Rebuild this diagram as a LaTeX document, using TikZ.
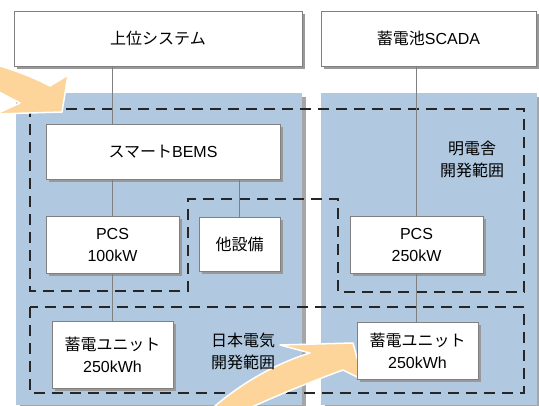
\documentclass[tikz,border=0pt]{standalone}
\usepackage{fontspec}
\setmainfont{Liberation Sans}
\newfontfamily\jp{Noto Sans CJK JP}
\usetikzlibrary{shadows}
\definecolor{panelblue}{RGB}{176,201,224}
\definecolor{arroworange}{RGB}{253,213,154}

\begin{document}
\begin{tikzpicture}[x=1pt, y=-1pt,
    every node/.style={font=\fontsize{16}{22}\selectfont},
    box/.style={rectangle, draw=gray, fill=white, inner sep=0pt, align=center,
      drop shadow={shadow xshift=3pt, shadow yshift=-3pt, fill=gray!80, opacity=1}},
    note/.style={align=center, inner sep=0pt},
    link/.style={draw=gray, line width=0.8pt},
    devrange/.style={draw=black!85, line width=2.2pt, dash pattern=on 11pt off 7pt},
    bigarrow/.style={fill=arroworange, draw=white, line width=1.5pt, line join=round}]
  \useasboundingbox (0,0) rectangle (539,405);
  % Panels
  \fill[gray!70] (20,97) rectangle (306,412);
  \fill[panelblue] (16,93) rectangle (302,405);
  \fill[gray!70] (325,97) rectangle (541,412);
  \fill[panelblue] (321,93) rectangle (537,405);
  % Development ranges
  \draw[devrange] (30,109) -- (524,109) -- (524,292) -- (338,292) -- (338,199)
    -- (188,199) -- (188,291) -- (30,291) -- cycle;
  \draw[devrange] (30,307) rectangle (524,393);
  % Arrows
  \filldraw[bigarrow] (-10,63) .. controls (15,70) and (35,78) .. (50,86) -- (68,75)
    -- (62,112) -- (-4,114) -- (20,103) .. controls (8,97) and (0,92) .. (-10,88) -- cycle;
  \filldraw[bigarrow] (205,415) .. controls (240,382) and (280,362) .. (310,353) -- (280,345)
    -- (353,343) -- (363,380) -- (343,370) .. controls (310,382) and (270,398) .. (235,415) -- cycle;
  % Labels
  \node[note, font=\jp\fontsize{16}{22}\selectfont] (meiden) at (472,159) {明電舎\\開発範囲};
  \node[note, font=\jp\fontsize{16}{22}\selectfont] (nec) at (243,351) {日本電気\\開発範囲};
  % Place nodes
  \node[box, minimum width=288pt, minimum height=55pt] (sys) at (158,38.5) {{\jp 上位システム}};
  \node[box, minimum width=215pt, minimum height=55pt] (scada) at (428.5,38.5) {{\jp 蓄電池}SCADA};
  \node[box, minimum width=234pt, minimum height=55pt] (bems) at (163,151.5) {{\jp スマート}BEMS};
  \node[box, minimum width=133pt, minimum height=57pt] (pcs1) at (112.5,244.5) {PCS\\100kW};
  \node[box, minimum width=81pt, minimum height=54pt] (misc) at (239.5,244) {{\jp 他設備}};
  \node[box, minimum width=133pt, minimum height=57pt] (pcs2) at (416.5,244.5) {PCS\\250kW};
  \node[box, minimum width=121pt, minimum height=67pt] (bat1) at (112.5,354.5) {{\jp 蓄電ユニット}\\250kWh};
  \node[box, minimum width=121pt, minimum height=57pt] (bat2) at (417.5,350.5) {{\jp 蓄電ユニット}\\250kWh};
  % Draw links
  \draw[link] (sys.south -| pcs1.north) -- (bems.north -| pcs1.north);
  \draw[link] (bems.south -| pcs1.north) -- (pcs1.north);
  \draw[link] (bems.south -| misc.north) -- (misc.north);
  \draw[link] (pcs1.south) -- (bat1.north);
  \draw[link] (scada.south -| pcs2.north) -- (pcs2.north);
  \draw[link] (pcs2.south) -- (bat2.north -| pcs2.south);
\end{tikzpicture}
\end{document}
